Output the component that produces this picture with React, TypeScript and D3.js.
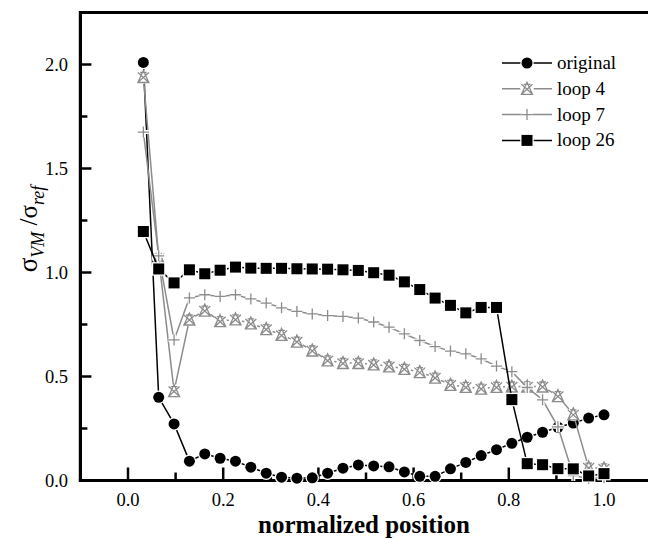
import React from "react";
import * as d3 from "d3";

// positions are i/31, i = 1..31
const positions = d3.range(1, 32).map((i) => i / 31);

const original = [2.01, 0.4, 0.272, 0.093, 0.128, 0.107, 0.093, 0.064, 0.035, 0.016, 0.011, 0.013, 0.035, 0.059, 0.075,
  0.07, 0.066, 0.041, 0.02, 0.02, 0.056, 0.087, 0.12, 0.148, 0.179, 0.208, 0.232, 0.256, 0.276, 0.3, 0.316];
const loop4 = [1.94, 1.07, 0.43, 0.774, 0.817, 0.766, 0.775, 0.755, 0.728, 0.7, 0.668, 0.625, 0.578, 0.565, 0.565,
  0.558, 0.549, 0.537, 0.521, 0.495, 0.46, 0.45, 0.442, 0.45, 0.452, 0.452, 0.452, 0.406, 0.318, 0.062, 0.058];
const loop7 = [1.675, 1.08, 0.676, 0.878, 0.893, 0.885, 0.893, 0.873, 0.853, 0.83, 0.813, 0.801, 0.793, 0.789, 0.781,
  0.762, 0.737, 0.705, 0.673, 0.644, 0.622, 0.609, 0.585, 0.55, 0.523, 0.447, 0.388, 0.258, 0.024, 0.01, 0.015];
const loop26 = [1.197, 1.017, 0.95, 1.013, 0.994, 1.011, 1.026, 1.021, 1.02, 1.02, 1.018, 1.017, 1.016, 1.013, 1.01,
  0.999, 0.987, 0.955, 0.918, 0.877, 0.842, 0.806, 0.832, 0.832, 0.389, 0.081, 0.076, 0.057, 0.056, 0.022, 0.033];

const seriesNames = ["original", "loop 4", "loop 7", "loop 26"];
const xTicks = [0, 0.2, 0.4, 0.6, 0.8, 1.0];
const yTicks = [0, 0.5, 1.0, 1.5, 2.0];

const W = 648;
const H = 538;
const FONT = "Liberation Serif";
const GRAY = "#8c8c8c";

const x = d3.scaleLinear().domain([-0.1, 1.1]).range([80.4, 651.6]);
const y = d3.scaleLinear().domain([0, 2.25]).range([480.5, 12.5]);

type Kind = "circle" | "star" | "plus" | "square";

function Marker({ kind, cx, cy }: { kind: Kind; cx: number; cy: number }) {
  if (kind === "circle")
    return <circle cx={cx} cy={cy} r={5.5} fill="#000" stroke="#fff" strokeWidth={2.5} style={{ paintOrder: "stroke" }} />;
  if (kind === "square")
    return <rect x={cx - 5.5} y={cy - 5.5} width={11} height={11} fill="#000" stroke="#fff" strokeWidth={2.5} style={{ paintOrder: "stroke" }} />;
  if (kind === "plus") {
    const p = `M${cx - 5.5},${cy}H${cx + 5.5}M${cx},${cy - 5.5}V${cy + 5.5}`;
    return (
      <g>
        <path d={p} stroke="#fff" strokeWidth={4} fill="none" />
        <path d={p} stroke={GRAY} strokeWidth={1.3} fill="none" />
      </g>
    );
  }
  const s = 5.5;
  const d =
    `M${cx},${cy - s - 1}L${cx + s},${cy + s}L${cx - s},${cy + s}Z` +
    `M${cx - s},${cy - s + 1}L${cx + s},${cy + s}M${cx + s},${cy - s + 1}L${cx - s},${cy + s}` +
    `M${cx - s * 0.6},${cy - s + 1}H${cx + s * 0.6}`;
  return (
    <g>
      <circle cx={cx} cy={cy} r={6.8} fill="#fff" />
      <path d={d} stroke={GRAY} strokeWidth={1.3} fill="none" />
    </g>
  );
}

const series: { name: string; values: number[]; color: string; kind: Kind }[] = [
  { name: seriesNames[0], values: original, color: "#000", kind: "circle" },
  { name: seriesNames[1], values: loop4, color: GRAY, kind: "star" },
  { name: seriesNames[2], values: loop7, color: GRAY, kind: "plus" },
  { name: seriesNames[3], values: loop26, color: "#000", kind: "square" },
];

export default function App() {
  const line = d3
    .line<number>()
    .x((_, i) => x(positions[i]))
    .y((v) => y(v));

  const xMinor = d3.range(0.1, 1.0, 0.2);
  const yMinor = d3.range(0.25, 2.3, 0.5);

  return (
    <svg width={W} height={H} style={{ position: "absolute", left: 0, top: 0, background: "#fff" }}>
      {/* frame */}
      <line x1={x(-0.1)} x2={W} y1={y(2.25)} y2={y(2.25)} stroke="#000" strokeWidth={3.2} />
      <line x1={x(-0.1)} x2={x(-0.1)} y1={y(2.25) - 1.6} y2={y(0)} stroke="#000" strokeWidth={3.2} />
      <line x1={x(-0.1) - 1.6} x2={W} y1={y(0)} y2={y(0)} stroke="#000" strokeWidth={3.2} />

      {/* x ticks */}
      {xTicks.map((t) => (
        <g key={"xt" + t}>
          <line x1={x(t)} x2={x(t)} y1={y(0)} y2={y(0) - 13} stroke="#000" strokeWidth={2.5} />
          <text x={x(t)} y={506} textAnchor="middle" fontSize={18.5} fontFamily={FONT}>
            {d3.format(".1f")(t)}
          </text>
        </g>
      ))}
      {xMinor.map((t) => (
        <line key={"xm" + t} x1={x(t)} x2={x(t)} y1={y(0)} y2={y(0) - 8} stroke="#000" strokeWidth={2.5} />
      ))}

      {/* y ticks */}
      {yTicks.map((t) => (
        <g key={"yt" + t}>
          <line x1={x(-0.1)} x2={x(-0.1) + 11} y1={y(t)} y2={y(t)} stroke="#000" strokeWidth={2.5} />
          <text x={68} y={y(t) + 6.5} textAnchor="end" fontSize={18.5} fontFamily={FONT}>
            {d3.format(".1f")(t)}
          </text>
        </g>
      ))}
      {yMinor.map((t) => (
        <line key={"ym" + t} x1={x(-0.1)} x2={x(-0.1) + 7} y1={y(t)} y2={y(t)} stroke="#000" strokeWidth={2.5} />
      ))}

      {/* axis titles */}
      <text x={364} y={533} textAnchor="middle" fontSize={25} fontWeight="bold" fontFamily={FONT}>
        normalized position
      </text>
      <text transform="translate(37,229) rotate(-90)" textAnchor="middle" fontSize={27} fontFamily={FONT}>
        σ
        <tspan fontSize={18} fontStyle="italic" dy={7}>VM</tspan>
        <tspan fontSize={25} dy={-7}> /σ</tspan>
        <tspan fontSize={18} fontStyle="italic" dy={7}>ref</tspan>
      </text>

      {/* series */}
      {series.map((s) => (
        <g key={s.name}>
          <path d={line(s.values) || ""} fill="none" stroke={s.color} strokeWidth={1.5} />
          {s.values.map((v, i) => (
            <Marker key={i} kind={s.kind} cx={x(positions[i])} cy={y(v)} />
          ))}
        </g>
      ))}

      {/* legend */}
      {series.map((s, k) => {
        const ly = 63 + k * 25.8;
        return (
          <g key={"lg" + s.name}>
            <line x1={502} x2={552} y1={ly} y2={ly} stroke={s.color} strokeWidth={1.5} />
            <Marker kind={s.kind} cx={527} cy={ly} />
            <text x={557} y={ly + 6} fontSize={19} fontFamily={FONT}>
              {s.name}
            </text>
          </g>
        );
      })}
    </svg>
  );
}
